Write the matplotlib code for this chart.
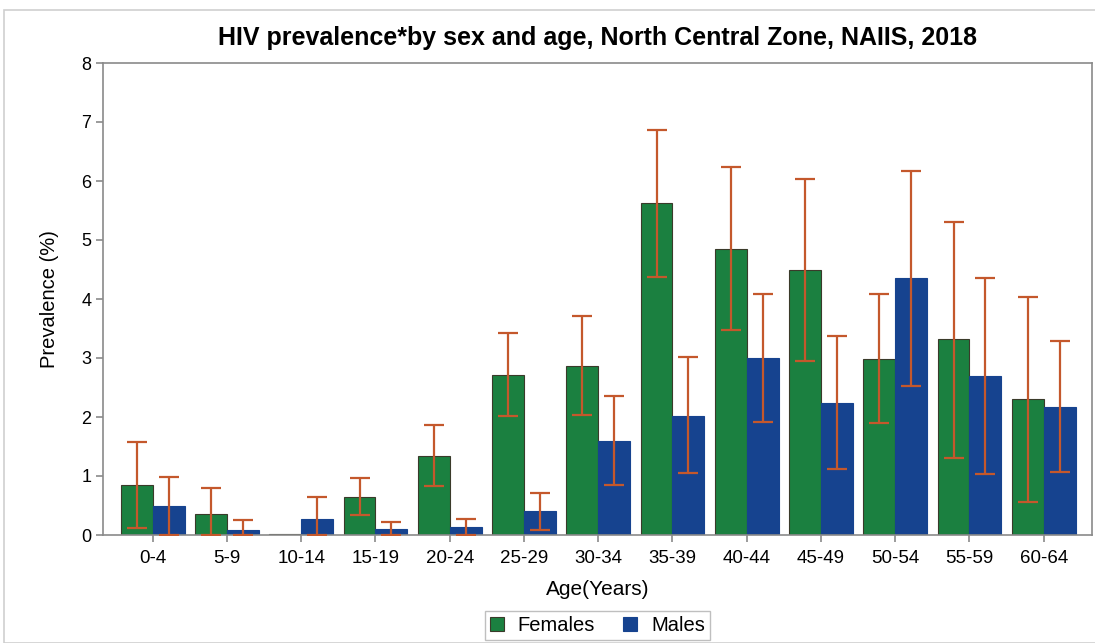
import numpy as np
from matplotlib import pyplot as plt
from matplotlib.patches import Rectangle

ages = ["0-4", "5-9", "10-14", "15-19", "20-24", "25-29", "30-34",
        "35-39", "40-44", "45-49", "50-54", "55-59", "60-64"]

females = [0.85, 0.36, 0.01, 0.65, 1.34, 2.72, 2.87, 5.62, 4.85, 4.49, 2.99, 3.32, 2.30]
females_lo = [0.12, 0.00, 0.01, 0.34, 0.83, 2.02, 2.03, 4.37, 3.47, 2.95, 1.90, 1.31, 0.56]
females_hi = [1.58, 0.80, 0.01, 0.97, 1.86, 3.42, 3.71, 6.87, 6.23, 6.03, 4.08, 5.31, 4.04]

males = [0.49, 0.09, 0.27, 0.10, 0.13, 0.40, 1.60, 2.02, 3.00, 2.24, 4.36, 2.69, 2.17]
males_lo = [0.00, 0.00, 0.00, 0.00, 0.00, 0.08, 0.85, 1.05, 1.92, 1.12, 2.53, 1.03, 1.07]
males_hi = [0.98, 0.25, 0.65, 0.22, 0.27, 0.72, 2.36, 3.01, 4.09, 3.37, 6.17, 4.36, 3.29]

green = "#1b8040"
blue = "#16438f"
err_color = "#c4582c"
font = ["Liberation Sans", "DejaVu Sans"]

fig = plt.figure(figsize=(10.95, 6.43), dpi=100)
fig.patches.append(Rectangle((4 / 1095, 0), 1.0, 1 - 10 / 643, transform=fig.transFigure,
                             fill=False, edgecolor="#cfcfcf", linewidth=1.2))
ax = fig.add_axes([103 / 1095, (643 - 535) / 643, (1092 - 103) / 1095, (535 - 63) / 643])

x = np.arange(len(ages))
w = 0.43
f = np.array(females)
m = np.array(males)
ferr = [f - np.array(females_lo), np.array(females_hi) - f]
merr = [m - np.array(males_lo), np.array(males_hi) - m]
# no error bar for the empty 10-14 female bar
ferr_mask = f > 0.05

ax.bar(x - w / 2, f, w, color=green, edgecolor="#3a3a2a", linewidth=0.8, label="Females", zorder=2)
ax.bar(x + w / 2, m, w, color=blue, edgecolor=blue, linewidth=0.8, label="Males", zorder=2)
ax.errorbar((x - w / 2)[ferr_mask], f[ferr_mask],
            yerr=[ferr[0][ferr_mask], ferr[1][ferr_mask]],
            fmt="none", ecolor=err_color, elinewidth=1.6, capsize=7, capthick=1.6, zorder=3)
ax.errorbar(x + w / 2, m, yerr=merr,
            fmt="none", ecolor=err_color, elinewidth=1.6, capsize=7, capthick=1.6, zorder=3)

ax.set_xlim(-0.67, 12.65)
ax.set_ylim(0, 8)
ax.set_xticks(x)
ax.set_xticklabels(ages, family=font, fontsize=13.5)
ax.set_yticks(range(0, 9))
ax.set_yticklabels([str(i) for i in range(9)], family=font, fontsize=13)
for s in ax.spines.values():
    s.set_color("#8a8a8a")
    s.set_linewidth(1.2)
ax.tick_params(axis="both", direction="out", length=5, color="#8a8a8a", width=1.2)
ax.tick_params(axis="x", pad=6)

ax.set_title("HIV prevalence*by sex and age, North Central Zone, NAIIS, 2018",
             family=font, fontsize=18, fontweight="bold", pad=13)
ax.set_xlabel("Age(Years)", family=font, fontsize=15, labelpad=9)
ax.set_ylabel("Prevalence (%)", family=font, fontsize=14.5, labelpad=16)

leg = ax.legend(loc="upper center", bbox_to_anchor=(0.5, -0.14), ncol=2, frameon=True,
                fancybox=False, edgecolor="#b0b0b0", prop={"family": font, "size": 14.5},
                handlelength=0.7, handleheight=0.7, handletextpad=0.7, columnspacing=1.4,
                borderpad=0.25)

fig.savefig("out.png", dpi=100)
